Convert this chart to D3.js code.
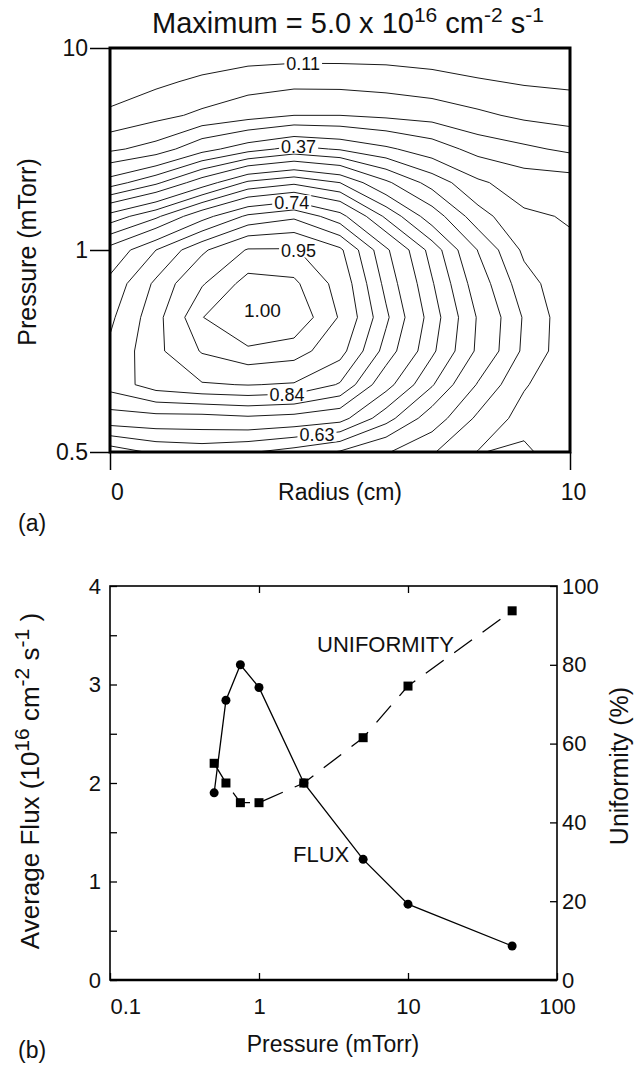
<!DOCTYPE html>
<html>
<head>
<meta charset="utf-8">
<script src="https://cdnjs.cloudflare.com/ajax/libs/d3/7.8.5/d3.min.js"></script>
<style>
  body { margin: 0; background: #fff; }
  svg { display: block; }
  text { font-family: "Liberation Sans", Arial, Helvetica, sans-serif; fill: #111; }
</style>
</head>
<body>
<svg id="fig" width="638" height="1065"></svg>
<script>
// ---------- (a) normalised ion flux map: radius (columns) x pressure (rows, top = 10 mTorr) ----------
const radiusCm = [0, 1, 2, 3, 4, 5, 6, 7, 8, 9, 10];
const pressureRows = [10, 7.5, 5, 3.5, 2, 1.5, 1, 0.875, 0.75, 0.675, 0.6, 0.55, 0.5];
const fluxGrid = [
  [0.05, 0.07, 0.07, 0.075, 0.08, 0.08, 0.08, 0.075, 0.07, 0.07, 0.07],
  [0.08, 0.10, 0.12, 0.14, 0.146, 0.145, 0.14, 0.13, 0.115, 0.105, 0.10],
  [0.12, 0.145, 0.17, 0.19, 0.21, 0.21, 0.20, 0.19, 0.17, 0.15, 0.14],
  [0.20, 0.23, 0.30, 0.35, 0.385, 0.365, 0.33, 0.29, 0.24, 0.22, 0.20],
  [0.345, 0.41, 0.50, 0.59, 0.62, 0.58, 0.48, 0.40, 0.33, 0.29, 0.285],
  [0.55, 0.62, 0.72, 0.80, 0.83, 0.76, 0.62, 0.50, 0.39, 0.33, 0.315],
  [0.70, 0.79, 0.88, 0.955, 0.955, 0.90, 0.75, 0.61, 0.468, 0.36, 0.33],
  [0.755, 0.85, 0.945, 1.02, 1.01, 0.93, 0.775, 0.635, 0.50, 0.39, 0.335],
  [0.78, 0.87, 0.998, 1.06, 1.04, 0.945, 0.80, 0.655, 0.525, 0.415, 0.335],
  [0.80, 0.875, 0.955, 0.99, 0.975, 0.91, 0.77, 0.64, 0.52, 0.41, 0.335],
  [0.81, 0.865, 0.885, 0.892, 0.885, 0.835, 0.70, 0.585, 0.465, 0.375, 0.33],
  [0.715, 0.72, 0.72, 0.73, 0.72, 0.70, 0.60, 0.50, 0.41, 0.35, 0.33],
  [0.55, 0.59, 0.60, 0.585, 0.56, 0.525, 0.475, 0.425, 0.368, 0.38, 0.335]
];
const contourLevels = [0.11, 0.16, 0.21, 0.26, 0.32, 0.37, 0.42, 0.47, 0.53, 0.58,
                       0.63, 0.68, 0.74, 0.79, 0.84, 0.89, 0.95, 1.00];
const labelledLevels = [0.11, 0.37, 0.74, 0.95, 0.84, 0.63];
const pressureTicks = [10, 1, 0.5];
const radiusTicks = [0, 10];

// ---------- (b) average flux and uniformity versus pressure ----------
const pressure = [0.5, 0.6, 0.75, 1, 2, 5, 10, 50];
const averageFlux = [1.9, 2.84, 3.2, 2.97, 2.0, 1.225, 0.77, 0.345];
const uniformity = [55, 50, 45, 45, 50, 61.5, 74.6, 93.7];
const pressureAxisTicks = [0.1, 1, 10, 100];
const fluxTicks = [0, 0.5, 1, 1.5, 2, 2.5, 3, 3.5, 4];
const uniformityTicks = [0, 20, 40, 60, 80, 100];

const svg = d3.select("#fig");

// ================= panel (a) =================
const A = { left: 110, right: 570, top: 48, bottom: 452 };
const xR = d3.scaleLinear().domain([0, 10]).range([A.left, A.right]);
const ny = pressureRows.length, nx = radiusCm.length;
const rowPos = pressureRows.map((p, j) => A.top + j * (A.bottom - A.top) / (ny - 1));
const yP = d3.scaleLinear().domain(pressureRows).range(rowPos);

// grid index -> pixel
const gx = d3.scaleLinear().domain([0, nx - 1]).range([xR(radiusCm[0]), xR(radiusCm[nx - 1])]);
const gy = d3.scaleLinear().domain([0, ny - 1]).range([yP(pressureRows[0]), yP(pressureRows[ny - 1])]);
const toPx = ([u, v]) => [gx(u - 0.5), gy(v - 0.5)];
const gridPath = d3.geoPath(d3.geoTransform({
  point(x, y) { const p = toPx([x, y]); this.stream.point(p[0], p[1]); }
}));

const contours = d3.contours().size([nx, ny]).thresholds(contourLevels)(fluxGrid.flat());

svg.append("defs").append("clipPath").attr("id", "mapClip")
  .append("rect").attr("x", A.left).attr("y", A.top)
  .attr("width", A.right - A.left).attr("height", A.bottom - A.top);

const gA = svg.append("g");
gA.append("g").attr("clip-path", "url(#mapClip)")
  .selectAll("path").data(contours).join("path")
  .attr("d", gridPath)
  .attr("fill", "none")
  .attr("stroke", "#1a1a1a")
  .attr("stroke-width", 1);

// where a contour crosses a vertical line at pixel px
function crossings(geom, px) {
  const ys = [];
  geom.coordinates.forEach(poly => poly.forEach(ring => {
    for (let i = 1; i < ring.length; i++) {
      const [x0, y0] = toPx(ring[i - 1]), [x1, y1] = toPx(ring[i]);
      if (x0 !== x1 && (x0 - px) * (x1 - px) <= 0) {
        const y = y0 + (px - x0) / (x1 - x0) * (y1 - y0);
        if (y > A.top + 2 && y < A.bottom - 2) ys.push(y);
      }
    }
  }));
  return ys;
}

// label placement along the map (radius, and a vertical fraction of the panel to pick the branch)
const labelSpots = { 0.11: [4.2, 0.04], 0.37: [4.1, 0.24], 0.74: [3.95, 0.37],
                     0.95: [4.1, 0.50], 0.84: [3.85, 0.85], 0.63: [4.5, 0.96] };
const fmt2 = d3.format(".2f");
const labelLayer = gA.append("g");
labelledLevels.forEach(level => {
  const geom = contours.find(c => c.value === level);
  const [r, f] = labelSpots[level];
  const px = xR(r), hint = A.top + f * (A.bottom - A.top);
  const ys = crossings(geom, px);
  if (!ys.length) return;
  const y = ys.reduce((a, b) => Math.abs(b - hint) < Math.abs(a - hint) ? b : a);
  const g = labelLayer.append("g");
  const t = g.append("text").attr("x", px).attr("y", y).attr("dy", "0.36em")
    .attr("text-anchor", "middle").attr("font-size", 18).text(fmt2(level));
  const bb = t.node().getBBox();
  g.insert("rect", "text").attr("x", bb.x - 2).attr("y", y - 7)
    .attr("width", bb.width + 4).attr("height", 14).attr("fill", "#fff");
});
// innermost level labelled at the middle of its closed loop
{
  const top = contours[contours.length - 1];
  const ring = top.coordinates[0][0].map(toPx);
  const c = d3.polygonCentroid(ring);
  labelLayer.append("text").attr("x", c[0]).attr("y", c[1]).attr("dy", "0.36em")
    .attr("text-anchor", "middle").attr("font-size", 19).text(fmt2(top.value));
}

// frame
gA.append("rect").attr("x", A.left).attr("y", A.top)
  .attr("width", A.right - A.left).attr("height", A.bottom - A.top)
  .attr("fill", "none").attr("stroke", "#000").attr("stroke-width", 3);

const axA_y = gA.append("g").attr("transform", `translate(${A.left},0)`)
  .call(d3.axisLeft(yP).tickValues(pressureTicks).tickSize(20).tickPadding(2).tickFormat(d3.format("")));
const axA_x = gA.append("g").attr("transform", `translate(0,${A.bottom})`)
  .call(d3.axisBottom(xR).tickValues(radiusTicks).tickSize(18).tickPadding(14).tickFormat(d3.format("d")));
[axA_y, axA_x].forEach(ax => {
  ax.select(".domain").remove();
  ax.selectAll(".tick line").attr("stroke", "#000").attr("stroke-width", 1.5);
  ax.selectAll(".tick text").attr("font-size", 23).attr("fill", "#111")
    .attr("font-family", "Liberation Sans, Arial, sans-serif");
});
axA_x.selectAll(".tick text").attr("dx", (d, i) => i === 0 ? 7 : 3);

// title and axis titles
const title = svg.append("text").attr("x", 348).attr("y", 33).attr("text-anchor", "middle").attr("font-size", 29);
title.append("tspan").text("Maximum = 5.0 x 10");
title.append("tspan").attr("dy", -11).attr("font-size", 21).text("16");
title.append("tspan").attr("dy", 11).text(" cm");
title.append("tspan").attr("dy", -11).attr("font-size", 21).text("-2");
title.append("tspan").attr("dy", 11).text(" s");
title.append("tspan").attr("dy", -11).attr("font-size", 21).text("-1");

svg.append("text").attr("transform", "translate(36,252) rotate(-90)")
  .attr("text-anchor", "middle").attr("font-size", 25).text("Pressure (mTorr)");
svg.append("text").attr("x", 340).attr("y", 500).attr("text-anchor", "middle")
  .attr("font-size", 23).text("Radius (cm)");
svg.append("text").attr("x", 18).attr("y", 531).attr("font-size", 23).text("(a)");

// ================= panel (b) =================
const B = { left: 110, right: 557, top: 586, bottom: 980 };
const xP = d3.scaleLog().domain([0.1, 100]).range([B.left, B.right]);
const yF = d3.scaleLinear().domain([0, 4]).range([B.bottom, B.top]);
const yU = d3.scaleLinear().domain([0, 100]).range([B.bottom, B.top]);
const gB = svg.append("g");

gB.append("rect").attr("x", B.left).attr("y", B.top)
  .attr("width", B.right - B.left).attr("height", B.bottom - B.top)
  .attr("fill", "none").attr("stroke", "#000").attr("stroke-width", 1.6);
gB.append("line").attr("x1", B.left).attr("x2", B.right).attr("y1", B.bottom).attr("y2", B.bottom)
  .attr("stroke", "#000").attr("stroke-width", 2.6);

const axL = gB.append("g").attr("transform", `translate(${B.left},0)`)
  .call(d3.axisLeft(yF).tickValues(fluxTicks).tickSize(-7).tickPadding(9)
    .tickFormat(d => Number.isInteger(d) ? d : ""));
const axR = gB.append("g").attr("transform", `translate(${B.right},0)`)
  .call(d3.axisRight(yU).tickValues(uniformityTicks).tickSize(-7).tickPadding(5).tickFormat(d3.format("d")));
const axBt = gB.append("g").attr("transform", `translate(0,${B.bottom})`)
  .call(d3.axisBottom(xP).tickValues(pressureAxisTicks).tickSize(-7).tickPadding(18).tickFormat(d3.format("")));
const axTp = gB.append("g").attr("transform", `translate(0,${B.top})`)
  .call(d3.axisTop(xP).tickValues([1, 10]).tickSize(-7).tickFormat(""));
[axL, axR, axBt, axTp].forEach(ax => {
  ax.select(".domain").remove();
  ax.selectAll(".tick line").attr("stroke", "#000").attr("stroke-width", 1.3);
  ax.selectAll(".tick text").attr("font-size", 22).attr("fill", "#111")
    .attr("font-family", "Liberation Sans, Arial, sans-serif");
});
axBt.selectAll(".tick text").attr("text-anchor", (d, i) => i === 0 ? "start" : "middle");

const fluxPts = pressure.map((p, i) => ({ p, v: averageFlux[i] }));
const unifPts = pressure.map((p, i) => ({ p, v: uniformity[i] }));

gB.append("path").datum(unifPts)
  .attr("d", d3.line().x(d => xP(d.p)).y(d => yU(d.v)))
  .attr("fill", "none").attr("stroke", "#000").attr("stroke-width", 1.3)
  .attr("stroke-dasharray", "22,13");
gB.append("path").datum(fluxPts)
  .attr("d", d3.line().x(d => xP(d.p)).y(d => yF(d.v)))
  .attr("fill", "none").attr("stroke", "#000").attr("stroke-width", 1.3);

gB.selectAll("rect.u").data(unifPts).join("rect").attr("class", "u")
  .attr("x", d => xP(d.p) - 4.5).attr("y", d => yU(d.v) - 4.5)
  .attr("width", 9).attr("height", 9).attr("fill", "#000");
gB.selectAll("circle.f").data(fluxPts).join("circle").attr("class", "f")
  .attr("cx", d => xP(d.p)).attr("cy", d => yF(d.v)).attr("r", 4.5).attr("fill", "#000");

gB.append("text").attr("x", 317).attr("y", 652).attr("font-size", 22).text("UNIFORMITY");
gB.append("text").attr("x", 293).attr("y", 862).attr("font-size", 22).text("FLUX");

const yl = svg.append("text").attr("transform", "translate(39,781) rotate(-90)")
  .attr("text-anchor", "middle").attr("font-size", 26);
yl.append("tspan").text("Average Flux (10");
yl.append("tspan").attr("dy", -10).attr("font-size", 21).text("16");
yl.append("tspan").attr("dy", 10).text(" cm");
yl.append("tspan").attr("dy", -10).attr("font-size", 21).text("-2");
yl.append("tspan").attr("dy", 10).text(" s");
yl.append("tspan").attr("dy", -10).attr("font-size", 21).text("-1");
yl.append("tspan").attr("dy", 10).text(" )");

svg.append("text").attr("transform", "translate(628,766) rotate(-90)")
  .attr("text-anchor", "middle").attr("font-size", 25).text("Uniformity (%)");
svg.append("text").attr("x", 333).attr("y", 1052).attr("text-anchor", "middle")
  .attr("font-size", 23).text("Pressure (mTorr)");
svg.append("text").attr("x", 18).attr("y", 1058).attr("font-size", 23).text("(b)");
</script>
</body>
</html>
